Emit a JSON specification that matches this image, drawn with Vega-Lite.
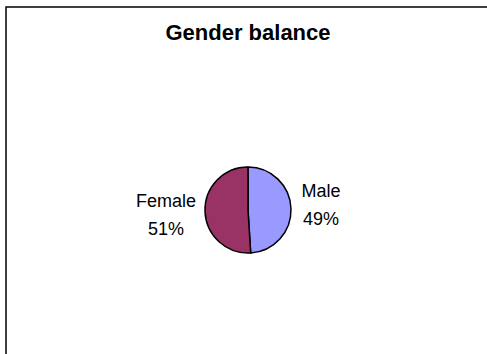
{
  "$schema": "https://vega.github.io/schema/vega-lite/v6.json",
  "autosize": {"type": "none"},
  "padding": {"left": 6, "top": 7, "right": -3, "bottom": -59},
  "width": 484,
  "height": 406,
  "background": "white",
  "config": {
    "view": {"stroke": "black", "strokeWidth": 1.5},
    "font": "Liberation Sans"
  },
  "title": {
    "text": "Gender balance",
    "anchor": "middle",
    "frame": "group",
    "orient": "top",
    "offset": -34,
    "dy": 24,
    "baseline": "alphabetic",
    "font": "Liberation Sans",
    "fontSize": 22,
    "fontWeight": "bold",
    "color": "black"
  },
  "data": {
    "values": [
      {"gender": "Male", "share": 49, "order": 1, "label": "Male\n49%"},
      {"gender": "Female", "share": 51, "order": 2, "label": "Female\n51%"}
    ]
  },
  "encoding": {
    "theta": {"field": "share", "type": "quantitative", "stack": true},
    "order": {"field": "order", "type": "quantitative"}
  },
  "layer": [
    {
      "mark": {"type": "point", "opacity": 0},
      "encoding": {
        "theta": null,
        "order": null,
        "x": {"datum": 0, "type": "quantitative", "axis": null},
        "y": {"datum": 0, "type": "quantitative", "axis": null}
      }
    },
    {
      "mark": {"type": "arc", "outerRadius": 43, "stroke": "black", "strokeWidth": 1.5},
      "encoding": {
        "color": {
          "field": "gender",
          "type": "nominal",
          "scale": {"domain": ["Male", "Female"], "range": ["#9999FF", "#993366"]},
          "legend": null
        }
      }
    },
    {
      "mark": {"type": "text", "radius": 73, "align": "center", "baseline": "middle", "fontSize": 18, "lineHeight": 28, "lineBreak": "\n", "dy": -16, "color": "black"},
      "encoding": {"text": {"condition": {"test": "datum.gender === 'Male'", "field": "label"}, "value": ""}}
    },
    {
      "mark": {"type": "text", "radius": 82, "align": "center", "baseline": "middle", "fontSize": 18, "lineHeight": 28, "lineBreak": "\n", "dy": -11, "color": "black"},
      "encoding": {"text": {"condition": {"test": "datum.gender === 'Female'", "field": "label"}, "value": ""}}
    }
  ]
}
